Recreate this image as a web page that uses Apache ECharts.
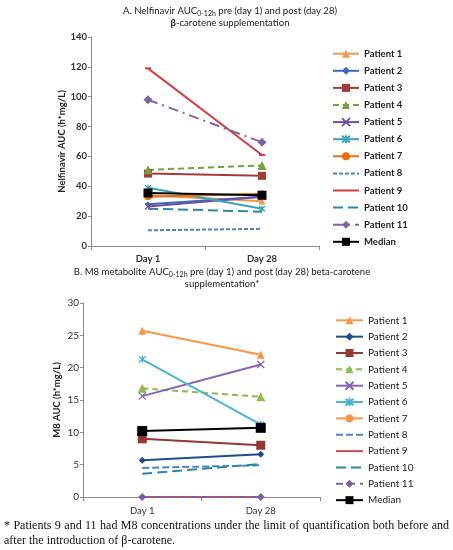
<!DOCTYPE html>
<html>
<head>
<meta charset="utf-8">
<script src="https://cdn.jsdelivr.net/npm/echarts@6/dist/echarts.min.js"></script>
<style>
    body { margin: 0; background: #fff; }
    #chartA { position: absolute; left: 0; top: 0; width: 453px; height: 264px; }
    #chartB { position: absolute; left: 0; top: 264px; width: 453px; height: 280px; }
    #note {
        position: absolute; left: 4px; top: 518px; width: 445px;
        font-family: "Liberation Serif", "DejaVu Serif", serif;
        font-size: 12px; line-height: 15px; color: #111; text-align: justify;
    }
</style>
</head>
<body>
<div id="chartA"></div>
<div id="chartB"></div>
<div id="note">* Patients 9 and 11 had M8 concentrations under the limit of quantification both before and after the introduction of β-carotene.</div>
<script>
var categories = ['Day 1', 'Day 28'];
var seriesNames = ['Patient 1', 'Patient 2', 'Patient 3', 'Patient 4', 'Patient 5', 'Patient 6',
    'Patient 7', 'Patient 8', 'Patient 9', 'Patient 10', 'Patient 11', 'Median'];

// A. Nelfinavir AUC (h*mg/L)
var nelfinavirDay1 = [34, 28, 48.5, 51, 26.5, 39, 33, 10.5, 119, 25, 98, 35.5];
var nelfinavirDay28 = [30, 33, 47, 54, 33, 25, 35, 11.5, 61, 23, 69.5, 34];
var nelfinavirTicks = [0, 20, 40, 60, 80, 100, 120, 140];

// B. M8 metabolite AUC (h*mg/L); patient 7 not shown
var m8Day1 = [25.7, 5.7, 9, 16.8, 15.6, 21.3, null, 4.5, 0, 3.6, 0, 10.2];
var m8Day28 = [22, 6.6, 8, 15.5, 20.5, 11.2, null, 4.9, 0, 5.1, 0, 10.7];
var m8Ticks = [0, 5, 10, 15, 20, 25, 30];

var X_PATH = 'path://M0,0L10,10M10,0L0,10';
var STAR_PATH = 'path://M0,0L10,10M10,0L0,10M5,-1L5,11';

// line look per series (same order as seriesNames); noIcon hides marker in legend
var stylesA = [
    { color: '#F79646', symbol: 'triangle', size: 7 },
    { color: '#3A6DB5', symbol: 'diamond', size: 6 },
    { color: '#A63A3A', symbol: 'rect', size: 8 },
    { color: '#77A03A', symbol: 'triangle', size: 9, dash: [6, 4] },
    { color: '#6E4E9E', symbol: X_PATH, size: 6, stroke: true },
    { color: '#3AA3BD', symbol: STAR_PATH, size: 6, stroke: true },
    { color: '#E4700E', symbol: 'circle', size: 7 },
    { color: '#4F81C9', symbol: 'none', dash: [4, 2], noIcon: true },
    { color: '#D04040', symbol: 'rect', size: [6, 2], noIcon: true },
    { color: '#2B8AA2', symbol: 'none', dash: [10, 5], noIcon: true },
    { color: '#8064A8', symbol: 'diamond', size: 9, dash: [10, 5, 2, 5] },
    { color: '#000000', symbol: 'rect', size: 9 }
];
var stylesB = [
    { color: '#F79646', symbol: 'triangle', size: 8 },
    { color: '#1F4C8C', symbol: 'diamond', size: 7 },
    { color: '#953735', symbol: 'rect', size: 9 },
    { color: '#8DBB4E', symbol: 'triangle', size: 9, dash: [6, 4] },
    { color: '#8464B0', symbol: X_PATH, size: 7, stroke: true },
    { color: '#4BB3D3', symbol: STAR_PATH, size: 7, stroke: true },
    { color: '#F79646', symbol: 'circle', size: 8 },
    { color: '#4F81C9', symbol: 'none', dash: [7, 3], noIcon: true },
    { color: '#C8504D', symbol: 'none', noIcon: true },
    { color: '#2B8AA2', symbol: 'none', dash: [10, 5], noIcon: true },
    { color: '#7B5EA8', symbol: 'diamond', size: 8, dash: [7, 5] },
    { color: '#000000', symbol: 'rect', size: 10 }
];

function buildSeries(day1, day28, styles) {
    var series = [];
    for (var i = 0; i < seriesNames.length; i++) {
        var s = styles[i];
        series.push({
            name: seriesNames[i],
            type: 'line',
            data: [day1[i], day28[i]],
            symbol: s.symbol,
            symbolSize: s.size || 6,
            lineStyle: { color: s.color, width: 2, type: s.dash ? s.dash : 'solid' },
            itemStyle: s.stroke
                ? { color: s.color, borderColor: s.color, borderWidth: 1.3 }
                : { color: s.color, borderWidth: 0 }
        });
    }
    return series;
}

function buildLegendData(styles) {
    return seriesNames.map(function (name, i) {
        return styles[i].noIcon ? { name: name, itemStyle: { opacity: 0 } } : { name: name };
    });
}

function makeOption(cfg) {
    return {
        animation: false,
        backgroundColor: 'transparent',
        title: {
            text: cfg.title,
            left: cfg.titleX,
            top: cfg.titleTop,
            textAlign: 'center',
            textStyle: {
                fontFamily: 'Lato',
                fontSize: 9.6,
                fontWeight: 'normal',
                color: '#222',
                lineHeight: 12,
                rich: {
                    t: { fontFamily: 'Lato', fontSize: 9.6, color: '#222', lineHeight: 12 },
                    sub: { fontFamily: 'Lato', fontSize: 7, color: '#222', lineHeight: 8, verticalAlign: 'bottom', padding: [4, 0, 0, 0] },
                    b: { fontFamily: 'Lato', fontSize: 9.6, color: '#222', fontWeight: 'bold', lineHeight: 12 }
                }
            }
        },
        legend: {
            orient: 'vertical',
            left: cfg.legendLeft,
            top: cfg.legendTop,
            padding: 0,
            itemWidth: cfg.legendIconW,
            itemHeight: 10,
            itemGap: cfg.legendGap,
            selectedMode: false,
            data: buildLegendData(cfg.styles),
            textStyle: { fontFamily: 'Lato', fontSize: cfg.legendFont, fontWeight: cfg.bold ? 'bold' : 'normal', color: '#222' }
        },
        grid: { left: cfg.gridLeft, right: cfg.gridRight, top: cfg.gridTop, bottom: cfg.gridBottom },
        xAxis: {
            type: 'category',
            data: categories,
            boundaryGap: true,
            axisLine: { lineStyle: { color: '#8C8C8C', width: 1 } },
            axisTick: { show: true, length: 4, lineStyle: { color: '#8C8C8C' } },
            axisLabel: { fontFamily: 'Lato', fontSize: 9.5, fontWeight: cfg.bold ? 'bold' : 'normal', color: '#333', margin: cfg.xMargin }
        },
        yAxis: {
            type: 'value',
            min: cfg.ticks[0],
            max: cfg.ticks[cfg.ticks.length - 1],
            interval: cfg.ticks[1] - cfg.ticks[0],
            name: cfg.yName,
            nameLocation: 'middle',
            nameGap: cfg.nameGap,
            nameMoveOverlap: false,
            nameTextStyle: { fontFamily: 'Lato', fontSize: 9.5, fontWeight: 'bold', color: '#222' },
            axisLine: { show: true, lineStyle: { color: '#8C8C8C', width: 1 } },
            axisTick: { show: true, length: 3, lineStyle: { color: '#8C8C8C' } },
            splitLine: { show: false },
            axisLabel: { fontFamily: 'Lato', fontSize: cfg.yLabelFont, fontWeight: cfg.bold ? 'bold' : 'normal', color: '#333', margin: 4 }
        },
        series: buildSeries(cfg.day1, cfg.day28, cfg.styles)
    };
}

var chartA = echarts.init(document.getElementById('chartA'));
chartA.setOption(makeOption({
    title: '{t|A. Nelfinavir AUC}{sub|0-12h}{t| pre (day 1) and post (day 28)}\n{b|β}{t|-carotene supplementation}',
    titleX: 225, titleTop: 0,
    legendLeft: 332, legendTop: 48.7, legendIconW: 26, legendGap: 7.1, legendFont: 9.5, bold: true,
    gridLeft: 91, gridRight: 134, gridTop: 37, gridBottom: 18, xMargin: 8,
    ticks: nelfinavirTicks, yName: 'Nelfinavir AUC (h*mg/L)', nameGap: 24, yLabelFont: 9.5,
    day1: nelfinavirDay1, day28: nelfinavirDay28, styles: stylesA
}));

var chartB = echarts.init(document.getElementById('chartB'));
chartB.setOption(makeOption({
    title: '{t|B. M8 metabolite AUC}{sub|0-12h}{t| pre (day 1) and post (day 28) beta-carotene}\n{t|supplementation*}',
    titleX: 217, titleTop: -3,
    legendLeft: 335, legendTop: 51.3, legendIconW: 27, legendGap: 6.35, legendFont: 10, bold: false,
    gridLeft: 83, gridRight: 133, gridTop: 39, gridBottom: 47, xMargin: 9,
    ticks: m8Ticks, yName: 'M8 AUC (h*mg/L)', nameGap: 21, yLabelFont: 10,
    day1: m8Day1, day28: m8Day28, styles: stylesB
}));

window.onresize = function () { chartA.resize(); chartB.resize(); };
</script>
</body>
</html>
